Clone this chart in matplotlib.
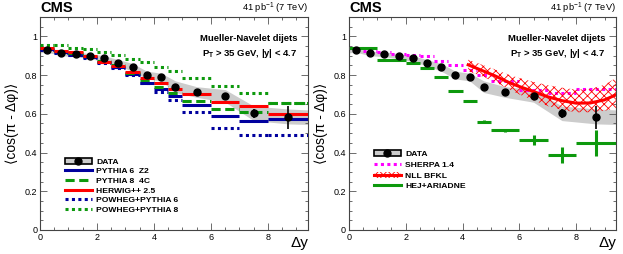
import numpy as np
import matplotlib
matplotlib.use("Agg")
import matplotlib.pyplot as plt
from matplotlib.patches import Patch
from matplotlib.lines import Line2D
from matplotlib.ticker import MultipleLocator

plt.rcParams['font.family'] = ['Liberation Sans', 'DejaVu Sans']
plt.rcParams['hatch.linewidth'] = 0.6

# bin edges in delta y and data
edges = [0, 0.5, 1, 1.5, 2, 2.5, 3, 3.5, 4, 4.5, 5, 6, 7, 8, 9.4]
centers = [0.25, 0.75, 1.25, 1.75, 2.25, 2.75, 3.25, 3.75, 4.25, 4.75, 5.5, 6.5, 7.5, 8.7]
data = [0.928, 0.912, 0.910, 0.900, 0.886, 0.864, 0.840, 0.800, 0.790, 0.738, 0.712, 0.693, 0.602, 0.582]
data_err = [0.006, 0.006, 0.006, 0.006, 0.006, 0.006, 0.006, 0.006, 0.006, 0.01, 0.01, 0.015, 0.025, 0.06]

# systematic band
band_x = [0, 0.25, 0.75, 1.25, 1.75, 2.25, 2.75, 3.25, 3.75, 4.25, 4.75, 5.5, 6.5, 7.5, 8.7, 9.4]
band_hi = [0.940, 0.937, 0.922, 0.920, 0.910, 0.900, 0.880, 0.860, 0.820, 0.810, 0.770, 0.740, 0.725, 0.640, 0.625, 0.620]
band_lo = [0.915, 0.918, 0.900, 0.895, 0.885, 0.870, 0.848, 0.820, 0.780, 0.770, 0.710, 0.685, 0.660, 0.565, 0.548, 0.545]

# left panel generators
pythia6 = [0.935, 0.920, 0.905, 0.895, 0.865, 0.840, 0.805, 0.760, 0.730, 0.690, 0.647, 0.590, 0.565, 0.573]
pythia8 = [0.940, 0.925, 0.915, 0.900, 0.875, 0.850, 0.810, 0.775, 0.740, 0.705, 0.664, 0.626, 0.607, 0.657]
herwig = [0.940, 0.925, 0.920, 0.900, 0.870, 0.845, 0.815, 0.785, 0.760, 0.730, 0.700, 0.659, 0.638, 0.598]
powheg6 = [0.930, 0.915, 0.905, 0.890, 0.860, 0.835, 0.800, 0.760, 0.715, 0.670, 0.609, 0.529, 0.493, 0.493]
powheg8 = [0.957, 0.955, 0.940, 0.935, 0.919, 0.905, 0.885, 0.866, 0.840, 0.819, 0.785, 0.745, 0.705, 0.657]

# right panel
sherpa = [0.940, 0.925, 0.917, 0.909, 0.905, 0.896, 0.871, 0.850, 0.824, 0.800, 0.767, 0.724, 0.710, 0.728]
hej_edges = [0, 1, 2, 2.5, 3, 3.5, 4, 4.5, 5, 6, 7, 8, 9.4]
hej_x = [0.5, 1.5, 2.25, 2.75, 3.25, 3.75, 4.25, 4.75, 5.5, 6.5, 7.5, 8.7]
hej = [0.940, 0.876, 0.860, 0.836, 0.790, 0.720, 0.664, 0.560, 0.514, 0.466, 0.388, 0.449]
hej_err = [0.002, 0.002, 0.002, 0.002, 0.002, 0.002, 0.002, 0.006, 0.008, 0.025, 0.04, 0.065]
bfkl_x = [4.2, 4.75, 5.13, 5.66, 6.0, 6.5, 7.0, 7.5, 8.0, 8.5, 9.0, 9.4]
bfkl = [0.853, 0.820, 0.797, 0.760, 0.741, 0.715, 0.688, 0.668, 0.655, 0.656, 0.672, 0.698]
bfkl_hi = [0.880, 0.850, 0.830, 0.800, 0.785, 0.765, 0.748, 0.735, 0.725, 0.728, 0.750, 0.785]
bfkl_lo = [0.820, 0.790, 0.765, 0.725, 0.700, 0.670, 0.640, 0.620, 0.608, 0.608, 0.615, 0.630]

blue = '#00009e'
green = '#0d990d'
red = '#ff0000'
grey = '#cccccc'
dotted = (0, (1, 1.1))

fig = plt.figure(figsize=(6.23, 2.54), dpi=100)
ax1 = fig.add_axes([0.0642, 0.0945, 0.430, 0.8386])
ax2 = fig.add_axes([0.5600, 0.0945, 0.4286, 0.8386])


def draw_data(ax):
    ax.fill_between(band_x, band_lo, band_hi, color=grey, lw=0, zorder=1)
    ax.errorbar(centers, data, yerr=data_err, fmt='o', color='black', ms=5,
                elinewidth=1.2, capsize=0, zorder=10)


def style(ax):
    ax.set_xlim(0, 9.4)
    ax.set_ylim(0, 1.1)
    ax.xaxis.set_minor_locator(MultipleLocator(0.5))
    ax.yaxis.set_minor_locator(MultipleLocator(0.05))
    ax.set_yticks([0, 0.2, 0.4, 0.6, 0.8, 1.0])
    ax.set_yticklabels(['0', '0.2', '0.4', '0.6', '0.8', '1'])
    ax.set_xticks([0, 2, 4, 6, 8])
    ax.set_xticklabels(['0', '2', '4', '6', '8'])
    ax.tick_params(which='both', direction='in', top=True, right=True, labelsize=6.5,
                   width=0.6, color='#555555', pad=2)
    ax.tick_params(which='major', length=5)
    ax.tick_params(which='minor', length=2.5)
    for s in ax.spines.values():
        s.set_linewidth(0.8)
        s.set_color('#444444')
    ax.set_ylabel('\u27e8cos(\u03c0 - \u0394\u03c6)\u27e9', fontsize=10, labelpad=4)
    ax.text(1.0, -0.062, '\u0394y', transform=ax.transAxes, ha='right', va='center', fontsize=11)
    ax.text(0.0, 1.042, 'CMS', transform=ax.transAxes, ha='left', va='center',
            fontsize=10.5, fontweight='bold')
    ax.text(1.0, 1.042, r'41 pb$^{\mathregular{-1}}$ (7 TeV)', transform=ax.transAxes,
            ha='right', va='center', fontsize=6.7)
    ax.text(0.96, 0.90, 'Mueller-Navelet dijets', transform=ax.transAxes, ha='right',
            va='center', fontsize=6.8, fontweight='bold')
    ax.text(0.96, 0.83, r'P$_{\mathregular{T}}$ > 35 GeV, |y| < 4.7', transform=ax.transAxes,
            ha='right', va='center', fontsize=6.8, fontweight='bold')


# left panel
draw_data(ax1)
lw = 2.2
ax1.hlines(powheg8, edges[:-1], edges[1:], colors=green, linestyles=[dotted], lw=lw, zorder=3)
ax1.hlines(powheg6, edges[:-1], edges[1:], colors=blue, linestyles=[dotted], lw=lw, zorder=3)
ax1.hlines(pythia6, edges[:-1], edges[1:], colors=blue, lw=lw, zorder=4)
ax1.hlines(pythia8, edges[:-1], edges[1:], colors=green, linestyles=[(0, (3, 1.5))], lw=lw, zorder=5)
ax1.hlines(herwig, edges[:-1], edges[1:], colors=red, lw=lw, zorder=6)
style(ax1)

data_handle = (Patch(facecolor=grey, edgecolor='black', lw=1.2),
               Line2D([], [], marker='o', color='black', ls='', ms=5))
h1 = [data_handle,
      Line2D([], [], color=blue, lw=lw),
      Line2D([], [], color=green, lw=lw, ls=(0, (3, 1.5))),
      Line2D([], [], color=red, lw=lw),
      Line2D([], [], color=blue, lw=lw, ls=dotted),
      Line2D([], [], color=green, lw=lw, ls=dotted)]
l1 = ['DATA', 'PYTHIA 6  Z2', 'PYTHIA 8  4C', 'HERWIG++ 2.5', 'POWHEG+PYTHIA 6', 'POWHEG+PYTHIA 8']
ax1.legend(h1, l1, loc='lower left', bbox_to_anchor=(0.08, 0.06), frameon=False,
           prop={'size': 6.1, 'weight': 'bold'}, handlelength=3.2, handletextpad=0.5,
           labelspacing=0.2, borderaxespad=0)

# right panel
draw_data(ax2)
ax2.hlines(sherpa, edges[:-1], edges[1:], colors='#ff00ff', linestyles=[dotted], lw=lw, zorder=3)
ax2.fill_between(bfkl_x, bfkl_lo, bfkl_hi, facecolor='none', edgecolor=red, hatch='xxxx',
                 lw=0, zorder=4)
ax2.plot(bfkl_x, bfkl, color=red, lw=2.2, zorder=5)
ax2.hlines(hej, hej_edges[:-1], hej_edges[1:], colors=green, lw=2.2, zorder=6)
ax2.errorbar(hej_x, hej, yerr=hej_err, fmt='none', ecolor=green, elinewidth=2.2, capsize=0, zorder=6)
style(ax2)

h2 = [data_handle,
      Line2D([], [], color='#ff00ff', lw=lw, ls=dotted),
      (Patch(facecolor='none', edgecolor=red, hatch='xxxx', lw=0),
       Line2D([], [], color=red, lw=2.2)),
      Line2D([], [], color=green, lw=2.2)]
l2 = ['DATA', 'SHERPA 1.4', 'NLL BFKL', 'HEJ+ARIADNE']
ax2.legend(h2, l2, loc='lower left', bbox_to_anchor=(0.08, 0.17), frameon=False,
           prop={'size': 6.1, 'weight': 'bold'}, handlelength=3.2, handletextpad=0.5,
           labelspacing=0.35, borderaxespad=0)

fig.savefig('out.png', dpi=100)
plt.close(fig)
